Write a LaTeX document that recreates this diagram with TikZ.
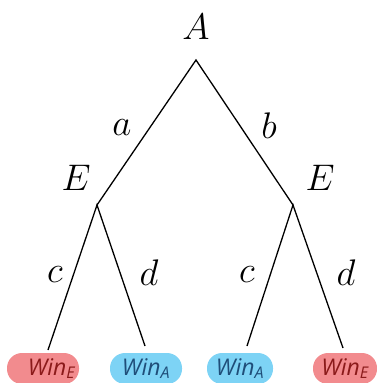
\RequirePackage{fix-cm}
\documentclass[tikz,border=0pt]{standalone}
\usepackage{fontspec}
\newfontfamily\pillfont{Open Sans}
\definecolor{pillred}{HTML}{F28B8E}
\definecolor{pillblue}{HTML}{7DD3F5}
\definecolor{txtred}{HTML}{8B1A1A}
\definecolor{txtblue}{HTML}{1F4E79}
\DeclareMathSizes{36}{36}{25}{18}
\begin{document}
\begin{tikzpicture}[x=1pt,y=-1pt,
  edge/.style={line width=1.3pt},
  lbl/.style={font=\fontsize{37}{37}\selectfont, inner sep=0pt},
  pill/.style={rounded corners=15pt, minimum width=70pt, minimum height=31pt, inner sep=0pt, font=\pillfont\itshape\fontsize{23}{23}\selectfont},
  redpill/.style={pill, fill=pillred, text=txtred},
  bluepill/.style={pill, fill=pillblue, text=txtblue}]
\useasboundingbox (0,0) rectangle (376,383);
\coordinate (r) at (196,60);
\coordinate (l) at (97,205);
\coordinate (rr) at (293,205);
\coordinate (l1) at (48,350);
\coordinate (l2) at (145,346);
\coordinate (l3) at (247,346);
\coordinate (l4) at (343,348);
\draw[edge] (l) -- (r) -- (rr);
\draw[edge] (l1) -- (l) -- (l2);
\draw[edge] (l3) -- (rr) -- (l4);
\node[lbl] (A) at (196,27) {$A$};
\node[lbl] (a) at (122,128) {$a$};
\node[lbl] (b) at (269,126) {$b$};
\node[lbl] (E1) at (76,178) {$E$};
\node[lbl] (E2) at (320,178) {$E$};
\node[lbl] (c1) at (55,275) {$c$};
\node[lbl] (d1) at (149,273) {$d$};
\node[lbl] (c2) at (247,275) {$c$};
\node[lbl] (d2) at (346,273) {$d$};
\node[redpill, minimum width=72pt] (w1) at (43,368.5) {\hspace{17pt}Win\textsubscript{E}};
\node[bluepill, minimum width=72pt] (w2) at (146,368.5) {Win\textsubscript{A}};
\node[bluepill, minimum width=66pt] (w3) at (240,368.5) {Win\textsubscript{A}};
\node[redpill, minimum width=64pt] (w4) at (345,368.5) {Win\textsubscript{E}};
\end{tikzpicture}
\end{document}
